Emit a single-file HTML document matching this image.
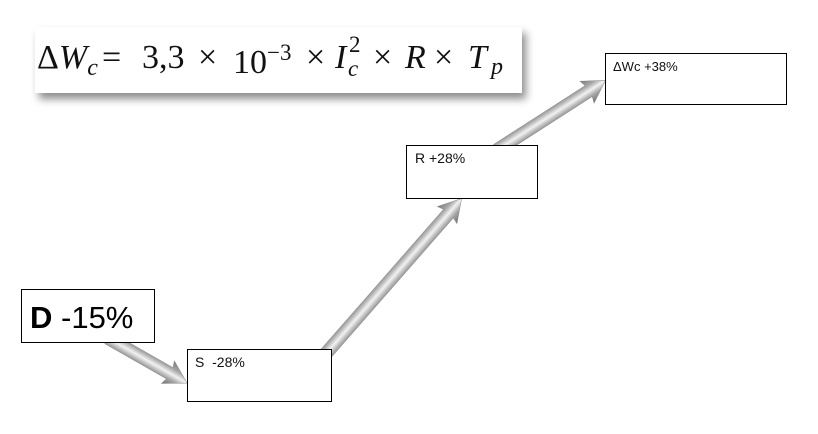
<!DOCTYPE html>
<html><head><meta charset="utf-8"><style>
body{margin:0;background:#fff;width:818px;height:434px;overflow:hidden;position:relative;font-family:"Liberation Sans",sans-serif}
.panel{position:absolute;left:35px;top:27px;width:487px;height:66px;background:#fff;box-shadow:4px 6px 8px rgba(0,0,0,0.45)}
.f{position:absolute;font-family:"Liberation Serif",serif;font-size:34px;top:41px;line-height:1;color:#111}
.i{font-style:italic}
.box{position:absolute;border:1px solid #000;background:#fff;box-sizing:border-box;font-size:14px;color:#111}
</style></head><body>
<svg width="818" height="434" style="position:absolute;left:0;top:0">
<defs>
<linearGradient id="g" x1="0" y1="-13" x2="0" y2="13" gradientUnits="userSpaceOnUse">
<stop offset="0" stop-color="#7a7a7a"/><stop offset="0.3" stop-color="#a8a8a8"/><stop offset="0.5" stop-color="#f2f2f2"/><stop offset="0.7" stop-color="#a8a8a8"/><stop offset="1" stop-color="#6e6e6e"/>
</linearGradient>
</defs>
<g transform="translate(108,338) rotate(29.7)"><path d="M0,-6.5 L71,-6.5 L69,-13 L91,0 L69,13 L71,6.5 L0,6.5 Z" fill="url(#g)" stroke="#888" stroke-width="0.5"/></g>
<g transform="translate(322,358) rotate(-48.8)"><path d="M0,-6.5 L192,-6.5 L190,-13 L212,0 L190,13 L192,6.5 L0,6.5 Z" fill="url(#g)" stroke="#888" stroke-width="0.5"/></g>
<g transform="translate(497,150) rotate(-32.7)"><path d="M0,-6.5 L109,-6.5 L107,-13 L129,0 L107,13 L109,6.5 L0,6.5 Z" fill="url(#g)" stroke="#888" stroke-width="0.5"/></g>
</svg>
<div class="panel"></div>
<span class="f" style="left:37px">Δ<span class="i">W</span><sub class="i" style="font-size:24px;vertical-align:-7px">c</sub></span>
<span class="f" style="left:102px">=</span>
<span class="f" style="left:142px">3,3</span>
<span class="f" style="left:198px">×</span>
<span class="f" style="left:233px">10<sup style="font-size:23px;vertical-align:13px">−3</sup></span>
<span class="f" style="left:306px">×</span>
<span class="f i" style="left:335px">I</span>
<span class="f i" style="left:348px;font-size:23px;top:57px">c</span>
<span class="f" style="left:349px;font-size:23px;top:33px">2</span>
<span class="f" style="left:373px">×</span>
<span class="f i" style="left:405px">R</span>
<span class="f" style="left:434px">×</span>
<span class="f i" style="left:468px">T</span>
<span class="f i" style="left:491px;font-size:24px;top:55px">p</span>
<div class="box" style="left:21px;top:289px;width:134px;height:54px;font-size:31px;padding:10px 0 0 8px;color:#000"><b>D</b> -15%</div>
<div class="box" style="left:187px;top:349px;width:145px;height:53px;padding:4px 0 0 7px">S &nbsp;-28%</div>
<div class="box" style="left:406px;top:145px;width:132px;height:54px;padding:4px 0 0 8px">R +28%</div>
<div class="box" style="left:605px;top:53px;width:182px;height:52px;padding:5px 0 0 7px;font-size:13px">ΔWc +38%</div>
</body></html>
